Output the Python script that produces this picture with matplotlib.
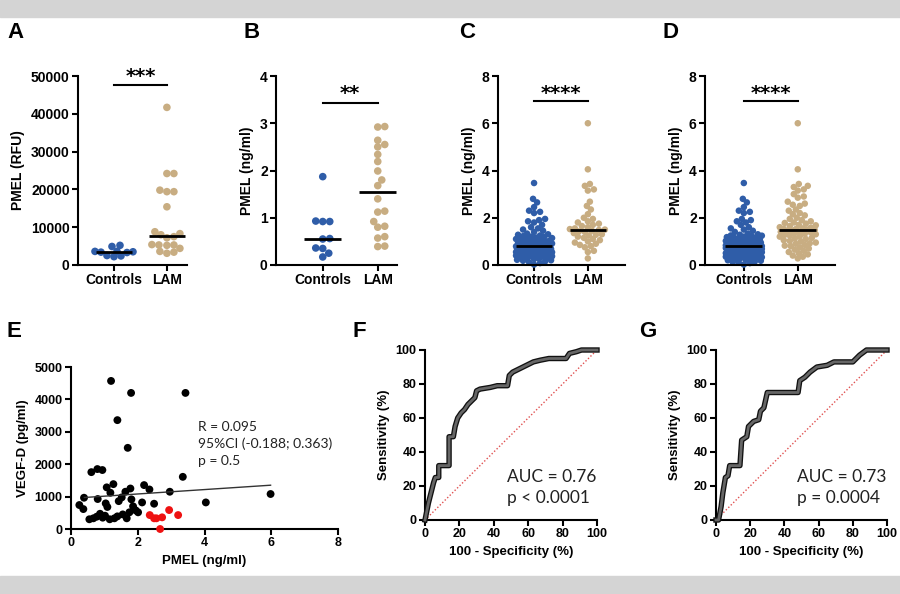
import numpy as np
import matplotlib
matplotlib.use('Agg')
import matplotlib.pyplot as plt
import matplotlib.patheffects as pe

# ---- data ----
a_controls = [4900, 5200, 3600, 3600, 3500, 3400, 2500, 2200, 2400, 3300]
a_lam = [41700, 24200, 24200, 19800, 19400, 19400, 15400, 8800, 8300, 8000,
         7500, 7200, 5400, 5300, 5300, 5200, 4400, 3600, 3400, 3100]

b_controls = [1.87, 0.92, 0.92, 0.93, 0.55, 0.56, 0.35, 0.36, 0.25, 0.17]
b_lam = [2.93, 2.92, 2.64, 2.55, 2.50, 2.34, 2.19, 1.99, 1.80, 1.68,
         1.40, 1.14, 1.12, 0.92, 0.82, 0.80, 0.60, 0.57, 0.40, 0.39]

c_controls = [0.02, 0.08, 0.12, 0.15, 0.18, 0.2, 0.22, 0.25, 0.27, 0.3,
              0.32, 0.33, 0.35, 0.37, 0.38, 0.4, 0.42, 0.43, 0.45, 0.46,
              0.48, 0.5, 0.51, 0.52, 0.54, 0.55, 0.57, 0.58, 0.6, 0.61,
              0.62, 0.64, 0.65, 0.66, 0.68, 0.69, 0.7, 0.71, 0.72, 0.73,
              0.74, 0.75, 0.76, 0.77, 0.77, 0.78, 0.79,
              0.8, 0.81, 0.83, 0.84, 0.86, 0.88, 0.9, 0.91, 0.93, 0.95,
              0.97, 0.99, 1.0, 1.02, 1.04, 1.06, 1.08, 1.1, 1.12, 1.14,
              1.16, 1.18, 1.2, 1.22, 1.25, 1.28, 1.3, 1.33,
              1.4, 1.45, 1.5, 1.55, 1.6, 1.7, 1.8, 1.85, 1.9, 1.95,
              2.2, 2.25, 2.3, 2.45, 2.65, 2.8, 3.47]
c_lam = [6.0, 4.05, 3.43, 3.35, 3.2, 3.15, 2.68, 2.5, 2.35, 2.15,
         2.0, 1.95, 1.85, 1.8, 1.75, 1.7, 1.65, 1.6, 1.55, 1.52,
         1.5, 1.48, 1.45, 1.42, 1.4, 1.35, 1.3, 1.28, 1.25, 1.2,
         1.15, 1.1, 1.05, 1.0, 0.95, 0.9, 0.85, 0.8, 0.75, 0.6, 0.55, 0.28]

d_controls_extra = [0.1, 0.3, 0.44, 0.56, 0.63, 0.85, 0.96, 1.05, 1.15, 1.24]
d_lam_extra = [3.3, 3.0, 2.9, 2.85, 2.6, 2.55, 2.3, 2.2, 2.1, 1.9, 1.78, 1.68,
               1.58, 1.53, 1.46, 1.38, 1.32, 1.22, 1.12, 1.02, 0.92, 0.82,
               0.7, 0.65, 0.5, 0.45, 0.4, 0.35]
d_controls = c_controls + d_controls_extra
d_lam = c_lam + d_lam_extra

e_black_x = [1.20, 1.80, 3.43, 1.39, 1.70, 0.61, 0.79, 0.94, 3.35, 1.07,
             1.27, 2.19, 2.35, 1.78, 1.63, 2.96, 5.98, 0.39, 0.80, 1.52,
             1.81, 1.18, 1.43, 4.04, 2.13, 2.49, 0.25, 0.37, 1.04, 1.09,
             1.86, 1.94, 1.75, 2.01, 0.87, 0.77, 0.55, 0.67, 1.02, 1.16,
             1.39, 1.67, 1.30, 0.95, 1.55]
e_black_y = [4570, 4200, 4200, 3360, 2505, 1755, 1850, 1820, 1610, 1285,
             1385, 1355, 1220, 1250, 1150, 1150, 1080, 965, 925, 975,
             915, 1120, 860, 820, 820, 780, 740, 615, 790, 680,
             700, 575, 515, 515, 470, 380, 300, 330, 410, 300,
             390, 330, 330, 350, 450]
e_red_x = [2.36, 2.49, 2.56, 2.73, 2.94, 3.21, 2.67]
e_red_y = [430, 330, 330, 360, 585, 430, 0]
e_fit_slope = 68
e_fit_intercept = 945

f_fpr = [0, 1, 2, 3, 4, 5, 6, 8, 8, 14, 14, 16.5, 17.5, 19, 21, 23, 25, 27, 29, 30,
         32, 38, 42, 48, 49, 51, 55, 59, 63, 67, 72, 82, 84, 88, 91, 100]
f_tpr = [0, 5, 10, 14, 18, 22, 25, 25, 32, 32, 49, 49, 55, 60, 63, 65, 68, 70, 72, 76,
         77, 78, 79, 79, 85, 87, 89, 91, 93, 94, 95, 95, 98, 99, 100, 100]
g_fpr = [0, 1.5, 3, 4, 5.5, 7, 8, 14, 15, 18, 19, 22, 25, 26, 28, 30, 39, 48, 49,
         52, 55, 59, 65, 69, 80, 84, 88, 100]
g_tpr = [0, 0, 8, 16, 25, 26, 32, 32, 47, 49, 55, 58, 59, 64, 66, 75, 75, 75, 82,
         84, 87, 90, 91, 93, 93, 97, 100, 100]

blue = '#2f5da8'
tan = '#c8ad82'

plt.rcParams['font.family'] = ['Liberation Sans', 'DejaVu Sans']
plt.rcParams['font.weight'] = 'bold'
plt.rcParams['axes.labelweight'] = 'bold'

W, H = 900, 594
fig = plt.figure(figsize=(9, 5.94), dpi=100)
fig.patches.append(plt.Rectangle((0, 1 - 17 / H), 1, 17 / H, transform=fig.transFigure,
                                 color='#d4d4d4', zorder=0))
fig.patches.append(plt.Rectangle((0, 0), 1, 18 / H, transform=fig.transFigure,
                                 color='#d4d4d4', zorder=0))


def add_ax(box):
    l, t, r, b = box
    return fig.add_axes([l / W, 1 - b / H, (r - l) / W, (b - t) / H])


def style(ax, size):
    for s in ['top', 'right']:
        ax.spines[s].set_visible(False)
    for s in ['left', 'bottom']:
        ax.spines[s].set_linewidth(1.5)
    ax.tick_params(width=1.5, length=4, labelsize=size, pad=2)


def beeswarm(vals, ppy, diam, half_w):
    # place points (pixel units) as close to the centre as possible without overlap;
    # when the swarm is full, take the spot with the most room
    yp = np.asarray(vals, float) * ppy
    xp = np.zeros(len(yp))
    cands = [0.0]
    for k in range(1, int(half_w) + 1):
        cands += [k, -k]
    cands = np.array(cands, float)
    placed = []
    for i in np.argsort(yp):
        near = [j for j in placed if abs(yp[j] - yp[i]) < diam]
        if not near:
            xp[i] = 0
        else:
            d = np.min(np.hypot(cands[:, None] - xp[near][None, :],
                                yp[i] - yp[near][None, :]), axis=1)
            ok = np.where(d >= diam)[0]
            xp[i] = cands[ok[0]] if len(ok) else cands[np.argmax(d)]
        placed.append(i)
    return xp


def dot_panel(box, xlim, ylim, yticks, ylabel, ctrl, lam, stars, bar_y, star_y,
              ms, dot_px, half_px):
    ax = add_ax(box)
    l, t, r, b = box
    ppx = (r - l) / (xlim[1] - xlim[0])
    ppy = (b - t) / (ylim[1] - ylim[0])
    for k, (vals, col) in enumerate([(ctrl, blue), (lam, tan)]):
        vals = np.asarray(vals, float)
        xs = k + beeswarm(vals, ppy, dot_px, half_px) / ppx
        ax.scatter(xs, vals, s=ms, color=col, edgecolors='none', zorder=2, clip_on=False)
        ax.hlines(np.median(vals), k - 0.34, k + 0.34, colors='black', lw=2, zorder=3)
    ax.set_xlim(*xlim)
    ax.set_ylim(*ylim)
    ax.set_yticks(yticks)
    ax.set_xticks([0, 1])
    ax.set_xticklabels(['Controls', 'LAM'])
    ax.set_ylabel(ylabel, fontsize=10)
    style(ax, 10)
    ax.plot([0, 1], [bar_y, bar_y], color='black', lw=1.5, clip_on=False)
    ax.text(0.5, star_y, stars, ha='center', va='center', fontsize=14,
            fontweight='bold', family='DejaVu Sans', clip_on=False)
    return ax


dot_panel((78, 76, 187, 265), (-0.68, 1.38), (0, 50000), range(0, 50001, 10000),
          'PMEL (RFU)', a_controls, a_lam, '***', 47600, 49800, 30, 6.5, 19)
dot_panel((276, 76, 397, 265), (-0.85, 1.35), (0, 4), range(0, 5),
          'PMEL (ng/ml)', b_controls, b_lam, '**', 3.43, 3.62, 30, 6.5, 19)
dot_panel((498, 76, 625, 265), (-0.67, 1.69), (0, 8), range(0, 9, 2),
          'PMEL (ng/ml)', c_controls, c_lam, '****', 6.94, 7.25, 22, 5.2, 18)
dot_panel((705, 76, 835, 265), (-0.72, 1.69), (0, 8), range(0, 9, 2),
          'PMEL (ng/ml)', d_controls, d_lam, '****', 6.94, 7.25, 22, 5.2, 18)

# ---- E: correlation ----
ax = add_ax((71, 367, 338, 529))
ax.scatter(e_black_x, e_black_y, s=32, color='black', edgecolors='none', zorder=2, clip_on=False)
ax.scatter(e_red_x, e_red_y, s=32, color='#ee1111', edgecolors='none', zorder=3, clip_on=False)
all_x = np.array(e_black_x + e_red_x)
fx = np.array([all_x.min() + 0.15, all_x.max()])
ax.plot(fx, e_fit_intercept + e_fit_slope * fx, color='#333333', lw=1)
ax.set_xlim(0, 8)
ax.set_ylim(0, 5000)
ax.set_xticks(range(0, 9, 2))
ax.set_yticks(range(0, 5001, 1000))
ax.set_xlabel('PMEL (ng/ml)', fontsize=9.5)
ax.set_ylabel('VEGF-D (pg/ml)', fontsize=9.5)
style(ax, 9)
ax.text(3.82, 3330, 'R = 0.095\n95%CI (-0.188; 0.363)\np = 0.5', fontsize=10,
        fontweight='normal', family='Lato', va='top', linespacing=1.45,
        color='#222222')

# ---- F, G: ROC ----
for box, fpr, tpr, txt in [((425, 350, 597, 520), f_fpr, f_tpr, 'AUC = 0.76\np < 0.0001'),
                           ((716, 350, 887, 520), g_fpr, g_tpr, 'AUC = 0.73\np = 0.0004')]:
    ax = add_ax(box)
    ax.plot([0, 100], [0, 100], color='#e05050', lw=1, linestyle=(0, (1, 1.5)), zorder=1)
    ax.plot(fpr, tpr, color='#666666', lw=2.0, solid_joinstyle='round', zorder=3,
            clip_on=False,
            path_effects=[pe.Stroke(linewidth=3.9, foreground='#111111'), pe.Normal()])
    ax.set_xlim(0, 100)
    ax.set_ylim(0, 100)
    ax.set_xticks(range(0, 101, 20))
    ax.set_yticks(range(0, 101, 20))
    ax.set_xlabel('100 - Specificity (%)', fontsize=9.5)
    ax.set_ylabel('Sensitivity (%)', fontsize=9.5)
    style(ax, 9)
    ax.text(47.5, 8.5, txt, fontsize=12.5, fontweight='normal', family='Lato',
            va='bottom', linespacing=1.35, color='#222222')

# panel letters
for letter, x, y in [('A', 7, 38), ('B', 243, 38), ('C', 459, 38), ('D', 663, 38),
                     ('E', 7, 337), ('F', 353, 337), ('G', 639, 337)]:
    fig.text(x / W, 1 - y / H, letter, fontsize=16, fontweight='bold', va='baseline')

fig.savefig('out.png', dpi=100)
